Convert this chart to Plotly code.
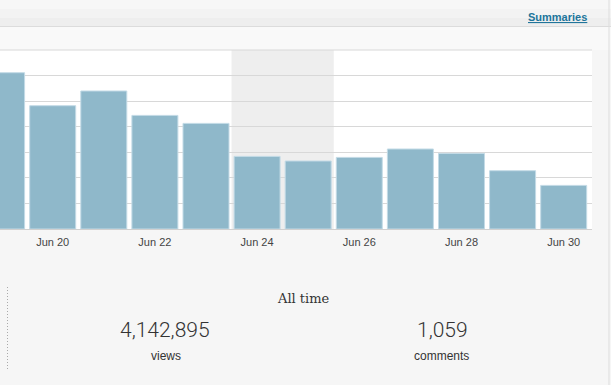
import plotly.graph_objects as go

# ---- data ----
days = ["2012-06-19", "2012-06-20", "2012-06-21", "2012-06-22", "2012-06-23", "2012-06-24",
        "2012-06-25", "2012-06-26", "2012-06-27", "2012-06-28", "2012-06-29", "2012-06-30"]
views = [12225, 9644, 10794, 8885, 8260, 5678, 5319, 5600, 6257, 5913, 4560, 3410]
tick_dates = ["2012-06-20", "2012-06-22", "2012-06-24", "2012-06-26", "2012-06-28", "2012-06-30"]
tick_labels = ["Jun 20", "Jun 22", "Jun 24", "Jun 26", "Jun 28", "Jun 30"]
weekend = ["2012-06-23 12:00", "2012-06-25 12:00"]
all_time_title = "All time"
total_views = "4,142,895"
total_comments = "1,059"

W, H = 611, 385
L, R, T, B = 0, 592, 50, 229
PW, PH = R - L, B - T


def px(x):
    return (x - L) / PW


def py(y):
    return (B - y) / PH


fig = go.Figure()
fig.add_trace(go.Bar(
    x=days, y=views,
    marker=dict(color="#8fb8ca", line=dict(color="#c3dbe6", width=1)),
    hoverinfo="skip",
))

shapes = []
# header band (approximate gradient)
bands = [("#f7f7f7", 0, 9), ("#f3f3f3", 9, 18), ("#eeeeee", 18, 26)]
for c, y0, y1 in bands:
    shapes.append(dict(type="rect", xref="paper", yref="paper", x0=px(0), x1=px(W),
                       y0=py(y1), y1=py(y0), fillcolor=c, line=dict(width=0), layer="below"))
shapes.append(dict(type="line", xref="paper", yref="paper", x0=px(0), x1=px(W),
                   y0=py(26.5), y1=py(26.5), line=dict(color="#dcdcdc", width=1)))
# strip below header
shapes.append(dict(type="rect", xref="paper", yref="paper", x0=px(0), x1=px(W),
                   y0=py(50), y1=py(27), fillcolor="#f9f9f9", line=dict(width=0), layer="below"))
# weekend shading
shapes.append(dict(type="rect", xref="x", yref="paper", x0=weekend[0], x1=weekend[1],
                   y0=0, y1=1, fillcolor="#eeeeee", line=dict(width=0), layer="below"))
# top grid line of the plot
shapes.append(dict(type="line", xref="paper", yref="paper", x0=0, x1=1, y0=1, y1=1,
                   line=dict(color="#d8d8d8", width=1)))
# right border line
shapes.append(dict(type="line", xref="paper", yref="paper", x0=px(609), x1=px(609),
                   y0=py(H), y1=py(0), line=dict(color="#dddddd", width=1)))
# dotted separator
shapes.append(dict(type="line", xref="paper", yref="paper", x0=px(7.5), x1=px(7.5),
                   y0=py(369), y1=py(285), line=dict(color="#aaaaaa", width=1, dash="1px,2px")))

annotations = [
    dict(text="<b><u>Summaries</u></b>", x=px(589), y=py(17), xref="paper", yref="paper",
         xanchor="right", yanchor="middle", showarrow=False,
         font=dict(family="Liberation Sans, Arial", size=11, color="#21759b")),
    dict(text=all_time_title, x=px(303.5), y=py(298), xref="paper", yref="paper",
         xanchor="center", yanchor="middle", showarrow=False,
         font=dict(family="DejaVu Serif, Liberation Serif", size=13, color="#333333")),
    dict(text=total_views, x=px(165), y=py(330), xref="paper", yref="paper",
         xanchor="center", yanchor="middle", showarrow=False,
         font=dict(family="Roboto, Liberation Sans", size=21, color="#333333", weight=300)),
    dict(text="views", x=px(165.5), y=py(356), xref="paper", yref="paper",
         xanchor="center", yanchor="middle", showarrow=False,
         font=dict(family="Liberation Sans, Arial", size=12, color="#333333")),
    dict(text=total_comments, x=px(442), y=py(330), xref="paper", yref="paper",
         xanchor="center", yanchor="middle", showarrow=False,
         font=dict(family="Roboto, Liberation Sans", size=21, color="#333333", weight=300)),
    dict(text="comments", x=px(441), y=py(356), xref="paper", yref="paper",
         xanchor="center", yanchor="middle", showarrow=False,
         font=dict(family="Liberation Sans, Arial", size=12, color="#333333")),
]

fig.update_layout(
    width=W, height=H,
    margin=dict(l=L, r=W - R, t=T, b=H - B, pad=0),
    paper_bgcolor="#f6f6f6",
    plot_bgcolor="#ffffff",
    bargap=0.1,
    showlegend=False,
    shapes=shapes,
    annotations=annotations,
    xaxis=dict(
        type="date",
        range=["2012-06-18 23:15", "2012-06-30 13:18"],
        tickvals=tick_dates, ticktext=tick_labels,
        showgrid=False, showline=True, linecolor="#d0d0d0", linewidth=1,
        ticks="outside", ticklen=3, tickcolor="rgba(0,0,0,0)",
        tickfont=dict(family="Liberation Sans, Arial", size=11, color="#444444"),
        fixedrange=True,
    ),
    yaxis=dict(
        range=[0, 14000], dtick=2000, showticklabels=False,
        showgrid=True, gridcolor="#d8d8d8", gridwidth=1,
        zeroline=False, fixedrange=True,
    ),
)

fig.write_html("out.html", config={"displayModeBar": False})
